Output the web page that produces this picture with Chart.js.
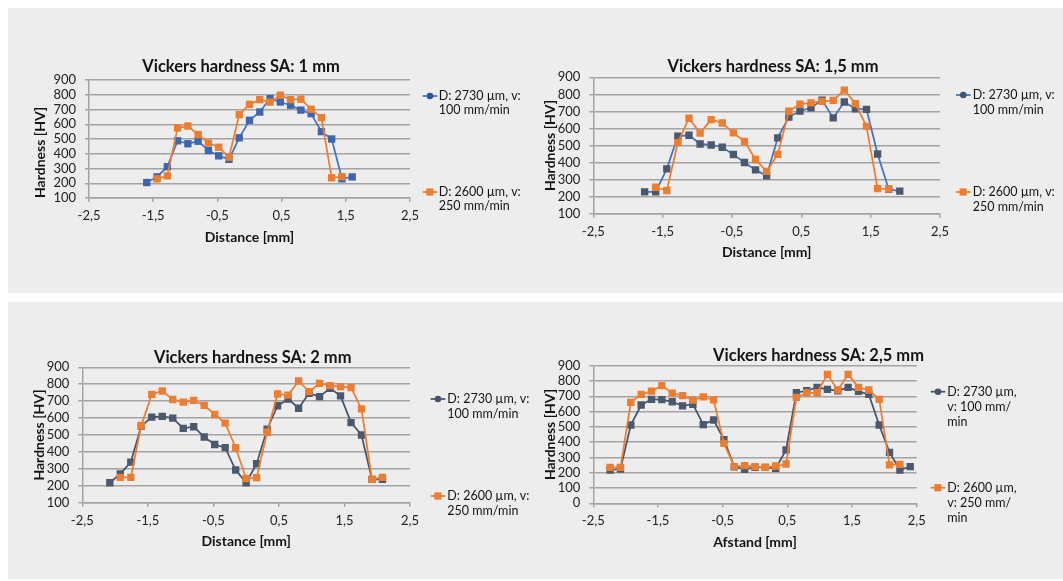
<!DOCTYPE html>
<html>
<head>
<meta charset="utf-8">
<script src="https://cdn.jsdelivr.net/npm/chart.js@4"></script>
<style>
  body { margin: 0; background: #fff; width: 1063px; height: 581px; overflow: hidden; position: relative; }
  .band { position: absolute; left: 8px; right: 0; background: #ededed; }
  canvas { position: absolute; }
</style>
</head>
<body>
<div class="band" style="top:8px;height:285px"></div>
<div class="band" style="top:302px;height:277px"></div>
<canvas id="c1" width="522" height="285" style="left:8px;top:8px"></canvas>
<canvas id="c2" width="533" height="285" style="left:530px;top:8px"></canvas>
<canvas id="c3" width="522" height="277" style="left:8px;top:302px"></canvas>
<canvas id="c4" width="533" height="277" style="left:530px;top:302px"></canvas>
<script>
// tick labels on the distance axis
const xTicks = [-2.5, -1.5, -0.5, 0.5, 1.5, 2.5];

// legend texts (wrapped as in the picture)
const legendWide = [["D: 2730 µm, v:", "100 mm/min"], ["D: 2600 µm, v:", "250 mm/min"]];
const legendNarrow = [["D: 2730 µm,", "v: 100 mm/", "min"], ["D: 2600 µm,", "v: 250 mm/", "min"]];

// SA: 1 mm
const x1Blue = [-1.6, -1.44, -1.28, -1.12, -0.96, -0.8, -0.64, -0.48, -0.32, -0.16, 0, 0.16, 0.32, 0.48, 0.64, 0.8, 0.96, 1.12, 1.28, 1.44, 1.6];
const y1Blue = [205, 243, 312, 488, 468, 485, 422, 386, 362, 508, 627, 683, 774, 751, 729, 696, 672, 550, 500, 230, 243];
const x1Orange = [-1.44, -1.28, -1.12, -0.96, -0.8, -0.64, -0.48, -0.32, -0.16, 0, 0.16, 0.32, 0.48, 0.64, 0.8, 0.96, 1.12, 1.28, 1.44];
const y1Orange = [230, 250, 575, 588, 530, 473, 444, 377, 665, 735, 767, 750, 797, 767, 770, 702, 645, 237, 245];

// SA: 1,5 mm
const x2Blue = [-1.76, -1.6, -1.44, -1.28, -1.12, -0.96, -0.8, -0.64, -0.48, -0.32, -0.16, 0, 0.16, 0.32, 0.48, 0.64, 0.8, 0.96, 1.12, 1.28, 1.44, 1.6, 1.76, 1.92];
const y2Blue = [228, 228, 363, 555, 560, 509, 503, 490, 447, 400, 357, 322, 545, 667, 702, 721, 766, 662, 755, 715, 712, 450, 243, 232];
const x2Orange = [-1.6, -1.44, -1.28, -1.12, -0.96, -0.8, -0.64, -0.48, -0.32, -0.16, 0, 0.16, 0.32, 0.48, 0.64, 0.8, 0.96, 1.12, 1.28, 1.44, 1.6, 1.76];
const y2Orange = [255, 236, 517, 660, 573, 652, 632, 574, 524, 418, 348, 448, 701, 743, 750, 759, 765, 825, 746, 612, 247, 245];

// SA: 2 mm
const x3Blue = [-2.08, -1.92, -1.76, -1.6, -1.44, -1.28, -1.12, -0.96, -0.8, -0.64, -0.48, -0.32, -0.16, 0, 0.16, 0.32, 0.48, 0.64, 0.8, 0.96, 1.12, 1.28, 1.44, 1.6, 1.76, 1.92, 2.08];
const y3Blue = [218, 270, 340, 553, 606, 610, 600, 539, 549, 488, 444, 425, 293, 218, 330, 534, 673, 713, 658, 746, 727, 776, 731, 573, 500, 238, 238];
const x3Orange = [-1.92, -1.76, -1.6, -1.44, -1.28, -1.12, -0.96, -0.8, -0.64, -0.48, -0.32, -0.16, 0, 0.16, 0.32, 0.48, 0.64, 0.8, 0.96, 1.12, 1.28, 1.44, 1.6, 1.76, 1.92, 2.08];
const y3Orange = [250, 250, 557, 740, 760, 710, 694, 705, 675, 621, 570, 425, 243, 248, 516, 742, 736, 819, 756, 805, 792, 786, 780, 654, 238, 250];

// SA: 2,5 mm
const x4Blue = [-2.24, -2.08, -1.92, -1.76, -1.6, -1.44, -1.28, -1.12, -0.96, -0.8, -0.64, -0.48, -0.32, -0.16, 0, 0.16, 0.32, 0.48, 0.64, 0.8, 0.96, 1.12, 1.28, 1.44, 1.6, 1.76, 1.92, 2.08, 2.24, 2.4];
const y4Blue = [218, 224, 512, 643, 680, 678, 664, 637, 648, 515, 545, 416, 239, 222, 235, 235, 229, 349, 723, 736, 758, 745, 736, 758, 732, 712, 512, 333, 218, 240];
const x4Orange = [-2.24, -2.08, -1.92, -1.76, -1.6, -1.44, -1.28, -1.12, -0.96, -0.8, -0.64, -0.48, -0.32, -0.16, 0, 0.16, 0.32, 0.48, 0.64, 0.8, 0.96, 1.12, 1.28, 1.44, 1.6, 1.76, 1.92, 2.08, 2.24];
const y4Orange = [235, 235, 660, 712, 734, 770, 720, 704, 675, 696, 676, 392, 240, 246, 240, 235, 244, 257, 693, 723, 723, 843, 741, 843, 758, 741, 680, 251, 255];

const ORANGE = "#ED7D31";
const GRID = "#a3a3a3";
const TEXT = "#141414";
const TICK = "#222";

function pts(xs, ys) {
    return xs.map((x, i) => ({ x: x, y: ys[i] }));
}

// legend on the right, entries spread over the plot height like Excel does
const sideLegend = {
    id: "sideLegend",
    afterDraw(chart, args, o) {
        const ctx = chart.ctx;
        const a = chart.chartArea;
        ctx.save();
        ctx.font = "12.5px Lato";
        ctx.textBaseline = "middle";
        ctx.textAlign = "left";
        o.lines.forEach((lines, i) => {
            const y = a.top + o.rows[i];
            const x = a.right + o.lineDx;
            ctx.strokeStyle = o.lineColors[i];
            ctx.lineWidth = 1.75;
            ctx.beginPath();
            ctx.moveTo(x, y);
            ctx.lineTo(x + 14.6, y);
            ctx.stroke();
            ctx.fillStyle = o.markColors[i];
            ctx.beginPath();
            if (i === 0) {
                ctx.arc(x + 7.3, y, 3.3, 0, Math.PI * 2);
            } else {
                ctx.rect(x + 3.6, y - 3.6, 7.2, 7.2);
            }
            ctx.fill();
            ctx.fillStyle = TEXT;
            lines.forEach((t, k) => ctx.fillText(t, a.right + o.textDx, y + k * o.gap));
        });
        ctx.restore();
    }
};

function makeChart(id, s) {
    new Chart(document.getElementById(id), {
        type: "line",
        data: {
            datasets: [
                {
                    label: s.legend[0].join(" "),
                    data: pts(s.xb, s.yb),
                    borderColor: s.blueLine,
                    pointBackgroundColor: s.blueMark,
                    order: 1
                },
                {
                    label: s.legend[1].join(" "),
                    data: pts(s.xo, s.yo),
                    borderColor: ORANGE,
                    pointBackgroundColor: ORANGE,
                    order: 0
                }
            ]
        },
        options: {
            responsive: false,
            animation: false,
            devicePixelRatio: 1,
            layout: { padding: s.pad },
            elements: {
                line: { borderWidth: 1.75, tension: 0 },
                point: { pointStyle: "rect", radius: 5.2, hoverRadius: 5.2, borderWidth: 0 }
            },
            plugins: {
                legend: { display: false },
                tooltip: { enabled: false },
                title: {
                    display: true,
                    text: s.title,
                    align: s.titleAlign,
                    color: TEXT,
                    font: { size: 16.5, weight: "bold" },
                    padding: s.titlePad
                },
                sideLegend: {
                    lines: s.legend,
                    lineColors: [s.blueLine, ORANGE],
                    markColors: [s.blueLegend, ORANGE],
                    lineDx: s.leg.lineDx,
                    textDx: s.leg.textDx,
                    rows: s.leg.rows,
                    gap: s.leg.gap
                }
            },
            scales: {
                x: {
                    type: "linear",
                    min: -2.5,
                    max: 2.5,
                    afterBuildTicks: sc => { sc.ticks = xTicks.map(v => ({ value: v })); },
                    afterFit: sc => { sc.height = s.xH; },
                    grid: { drawOnChartArea: false, tickLength: 4, color: GRID, lineWidth: 1.5 },
                    border: { color: GRID, width: 1.5 },
                    ticks: {
                        padding: 6,
                        autoSkip: false,
                        maxRotation: 0,
                        color: TICK,
                        font: { size: 13 },
                        callback: v => String(v).replace(".", ",")
                    },
                    title: { display: true, text: s.xTitle, color: TEXT, font: { size: 14, weight: "bold" }, padding: 0 }
                },
                y: {
                    min: s.yMin,
                    max: 900,
                    afterFit: sc => { sc.width = s.yW; },
                    grid: { tickLength: 4, color: GRID, lineWidth: 1.5 },
                    border: { color: GRID, width: 1.5 },
                    ticks: { stepSize: 100, autoSkip: false, padding: 9, color: TICK, font: { size: 13 } },
                    title: { display: true, text: "Hardness [HV]", align: s.yTitleAlign, color: TEXT, font: { size: 14, weight: "bold" }, padding: 0 }
                },
                y2: {
                    position: "right",
                    afterFit: sc => { sc.width = s.y2W; },
                    grid: { display: false },
                    ticks: { display: false },
                    border: { display: false }
                }
            }
        },
        plugins: [sideLegend]
    });
}

function drawAll() {
    Chart.defaults.font.family = "Lato";

    makeChart("c1", {
        title: "Vickers hardness SA: 1 mm", titleAlign: "center", xTitle: "Distance [mm]", yMin: 100,
        xb: x1Blue, yb: y1Blue, xo: x1Orange, yo: y1Orange,
        blueLine: "#4472C4", blueMark: "#3f66ad", blueLegend: "#2f5597",
        legend: legendWide,
        pad: { left: 23.6, right: 79.6, top: 49.1, bottom: 47.6 },
        titlePad: { top: 0, bottom: 3.1 }, yW: 57.4, y2W: 40.4, xH: 47.4, yTitleAlign: "start",
        leg: { lineDx: 12.7, textDx: 28.7, rows: [16, 112], gap: 14 }
    });

    makeChart("c2", {
        title: "Vickers hardness SA: 1,5 mm", titleAlign: "center", xTitle: "Distance [mm]", yMin: 100,
        xb: x2Blue, yb: y2Blue, xo: x2Orange, yo: y2Orange,
        blueLine: "#4472C4", blueMark: "#4b596e", blueLegend: "#44546A",
        legend: legendWide,
        pad: { left: 11.6, right: 58.6, top: 49.1, bottom: 32.6 },
        titlePad: { top: 0, bottom: 0.4 }, yW: 51.7, y2W: 64.4, xH: 46.7, yTitleAlign: "center",
        leg: { lineDx: 16, textDx: 32.7, rows: [17.7, 114.7], gap: 14.5 }
    });

    makeChart("c3", {
        title: "Vickers hardness SA: 2 mm", titleAlign: "center", xTitle: "Distance [mm]", yMin: 100,
        xb: x3Blue, yb: y3Blue, xo: x3Orange, yo: y3Orange,
        blueLine: "#44546A", blueMark: "#4b596e", blueLegend: "#44546A",
        legend: legendWide,
        pad: { left: 22.6, right: 55.2, top: 45.5, bottom: 29.6 },
        titlePad: { top: 0, bottom: 0 }, yW: 51.7, y2W: 64.8, xH: 46.7, yTitleAlign: "center",
        leg: { lineDx: 20.7, textDx: 37.3, rows: [31.7, 128.7], gap: 15 }
    });

    makeChart("c4", {
        title: "Vickers hardness SA: 2,5 mm", titleAlign: "end", xTitle: "Afstand [mm]", yMin: 0,
        xb: x4Blue, yb: y4Blue, xo: x4Orange, yo: y4Orange,
        blueLine: "#44546A", blueMark: "#4b596e", blueLegend: "#44546A",
        legend: legendNarrow,
        pad: { left: 11.6, right: 139, top: 43.9, bottom: 28.3 },
        titlePad: { top: 0, bottom: 0 }, yW: 51.7, y2W: 7.3, xH: 47.4, yTitleAlign: "center",
        leg: { lineDx: 14, textDx: 30.6, rows: [26, 122], gap: 15 }
    });
}

Promise.all([
    document.fonts.load("12px Lato"),
    document.fonts.load("bold 15px Lato")
]).then(drawAll, drawAll);
</script>
</body>
</html>
